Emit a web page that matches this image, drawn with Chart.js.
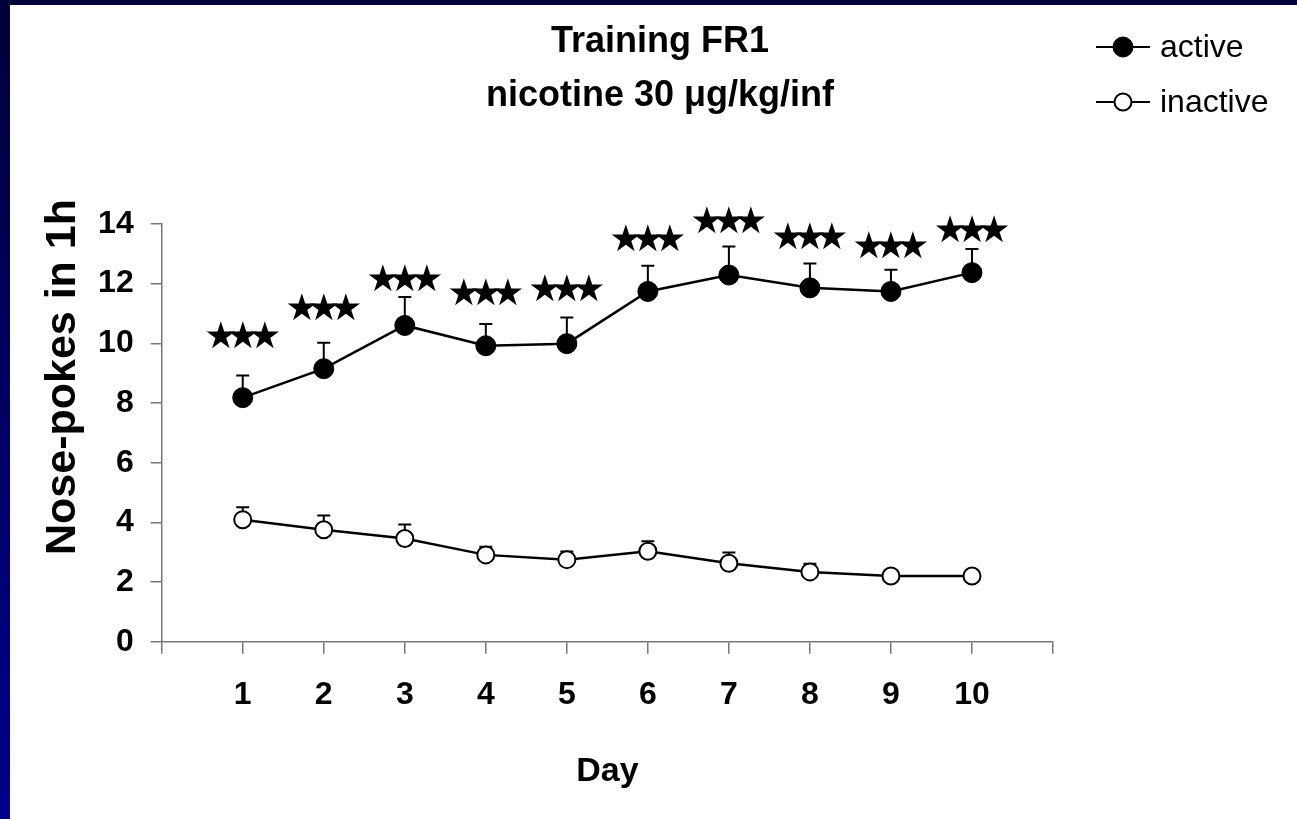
<!DOCTYPE html>
<html>
<head>
<meta charset="utf-8">
<script src="https://cdn.jsdelivr.net/npm/chart.js@4.4.1/dist/chart.umd.min.js"></script>
<style>
  html, body { margin: 0; padding: 0; background: #fff; overflow: hidden; }
  #topbar { position: absolute; left: 0; top: 0; width: 1297px; height: 5px; background: #00003a; }
  #leftbar { position: absolute; left: 0; top: 0; width: 10px; height: 819px;
             background: linear-gradient(to bottom, #00003a, #00008c); }
  #myChart { position: absolute; left: 10px; top: 5px; }
</style>
</head>
<body>
<div id="topbar"></div>
<div id="leftbar"></div>
<canvas id="myChart" width="1287" height="814"></canvas>
<script>
// values
var days = [1, 2, 3, 4, 5, 6, 7, 8, 9, 10];
var active = [8.18, 9.15, 10.6, 9.92, 9.99, 11.74, 12.29, 11.86, 11.74, 12.37];
var active_sem = [0.74, 0.87, 0.95, 0.73, 0.88, 0.86, 0.96, 0.82, 0.73, 0.79];
var inactive = [4.09, 3.75, 3.46, 2.91, 2.75, 3.03, 2.63, 2.34, 2.2, 2.2];
var inactive_sem = [0.42, 0.48, 0.47, 0.27, 0.27, 0.34, 0.36, 0.27, 0.1, 0.05];
var star_level = [10.23, 11.18, 12.13, 11.68, 11.82, 13.47, 14.1, 13.54, 13.25, 13.8];
var y_ticks = [0, 2, 4, 6, 8, 10, 12, 14];

var FONT = "'Liberation Sans', Arial, sans-serif";

function toPoints(ys) {
  var pts = [];
  for (var i = 0; i < days.length; i++) {
    pts.push({x: days[i], y: ys[i]});
  }
  return pts;
}

// error bars (upper half only), drawn under the markers
var errorBars = {
  id: 'errorBars',
  beforeDatasetsDraw: function(chart) {
    var c = chart.ctx;
    var xs = chart.scales.x, ys = chart.scales.y;
    var sets = [[active, active_sem], [inactive, inactive_sem]];
    c.save();
    c.strokeStyle = '#000';
    c.lineWidth = 2;
    for (var s = 0; s < sets.length; s++) {
      for (var i = 0; i < days.length; i++) {
        var px = xs.getPixelForValue(days[i]);
        var y0 = ys.getPixelForValue(sets[s][0][i]);
        var y1 = ys.getPixelForValue(sets[s][0][i] + sets[s][1][i]);
        c.beginPath();
        c.moveTo(px, y0);
        c.lineTo(px, y1);
        c.moveTo(px - 6.5, y1);
        c.lineTo(px + 6.5, y1);
        c.stroke();
      }
    }
    c.restore();
  }
};

// stars, y-axis title and legend
var extras = {
  id: 'extras',
  afterDraw: function(chart) {
    var c = chart.ctx;
    var xs = chart.scales.x, ys = chart.scales.y;
    var area = chart.chartArea;
    c.save();
    c.fillStyle = '#000';
    c.textAlign = 'center';
    c.textBaseline = 'middle';
    c.font = "37px 'DejaVu Sans'";
    for (var i = 0; i < days.length; i++) {
      var sx = xs.getPixelForValue(days[i]);
      var sy = ys.getPixelForValue(star_level[i]) + 2;
      for (var k = -1; k <= 1; k++) {
        c.fillText('\u2605', sx + k * 22, sy);
      }
    }

    // y title
    c.save();
    c.translate(area.left - 99, area.top + 153);
    c.rotate(-Math.PI / 2);
    c.font = 'bold 43px ' + FONT;
    c.fillText('Nose-pokes in 1h', 0, 0);
    c.restore();

    // legend
    var rows = chart.data.datasets;
    for (var r = 0; r < rows.length; r++) {
      var ly = 42 + r * 55;
      c.strokeStyle = '#000';
      c.lineWidth = 2;
      c.beginPath();
      c.moveTo(1086, ly);
      c.lineTo(1140, ly);
      c.stroke();
      c.beginPath();
      c.arc(1113, ly, rows[r].pointRadius, 0, Math.PI * 2);
      c.fillStyle = rows[r].pointBackgroundColor;
      c.fill();
      c.lineWidth = rows[r].pointBorderWidth;
      c.stroke();
      c.fillStyle = '#000';
      c.textAlign = 'left';
      c.font = '32px ' + FONT;
      c.fillText(rows[r].label, 1150, ly + 1);
    }
    c.restore();
  }
};

var ctx = document.getElementById('myChart');
var myChart = new Chart(ctx, {
  type: 'line',
  data: {
    datasets: [
      {
        label: 'active',
        data: toPoints(active),
        borderColor: '#000',
        borderWidth: 2.5,
        pointRadius: 10,
        pointBackgroundColor: '#000',
        pointBorderColor: '#000',
        pointBorderWidth: 1
      },
      {
        label: 'inactive',
        data: toPoints(inactive),
        borderColor: '#000',
        borderWidth: 2.5,
        pointRadius: 8.5,
        pointBackgroundColor: '#fff',
        pointBorderColor: '#000',
        pointBorderWidth: 2
      }
    ]
  },
  options: {
    responsive: false,
    animation: false,
    layout: { padding: { left: 13, right: 0, top: 0, bottom: 0 } },
    plugins: {
      legend: { display: false },
      tooltip: { enabled: false },
      title: {
        display: true,
        text: ['Training FR1', 'nicotine 30 \u03bcg/kg/inf'],
        color: '#000',
        font: { family: FONT, size: 36, weight: 'bold', lineHeight: 1.5 },
        padding: { top: 10, bottom: 101 }
      }
    },
    scales: {
      x: {
        type: 'linear',
        min: 0,
        max: 11,
        afterFit: function(s) { s.height = 177.3; },
        ticks: {
          stepSize: 1,
          color: '#000',
          padding: 22,
          maxRotation: 0,
          autoSkip: false,
          font: { family: FONT, size: 32, weight: 'bold' },
          callback: function(v) { return (v >= 1 && v <= 10) ? String(v) : ''; }
        },
        grid: { drawOnChartArea: false, tickLength: 12, color: '#777', lineWidth: 1.5 },
        border: { color: '#777', width: 1.5 },
        title: {
          display: true,
          text: 'Day',
          color: '#000',
          font: { family: FONT, size: 34, weight: 'bold' },
          padding: { top: 0, bottom: 26.6 }
        }
      },
      y: {
        min: 0,
        max: 14,
        afterFit: function(s) { s.width = 138.7; },
        afterBuildTicks: function(s) {
          s.ticks = y_ticks.map(function(v) { return {value: v}; });
        },
        ticks: {
          color: '#000',
          padding: 17,
          font: { family: FONT, size: 32, weight: 'bold' }
        },
        grid: { drawOnChartArea: false, tickLength: 11, color: '#777', lineWidth: 1.5 },
        border: { color: '#777', width: 1.5 }
      },
      // empty box on the right that keeps the plot clear of the legend
      pad: {
        type: 'linear',
        position: 'right',
        afterFit: function(s) { s.width = 244; },
        ticks: { display: false },
        grid: { display: false },
        border: { display: false }
      }
    }
  },
  plugins: [errorBars, extras]
});
</script>
</body>
</html>
